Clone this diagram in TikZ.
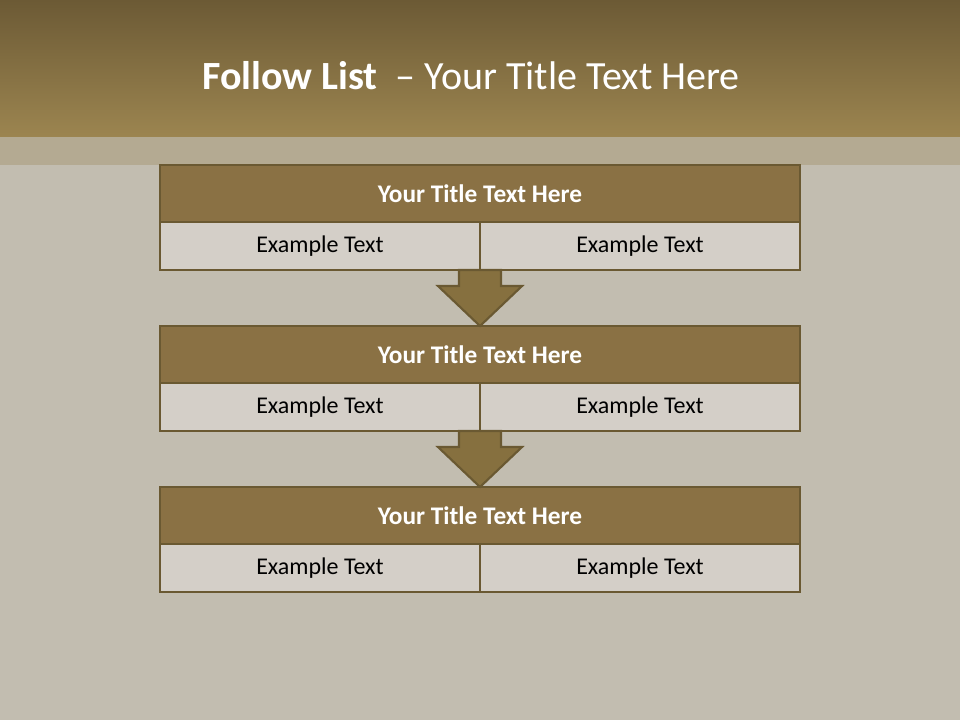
\documentclass[tikz,border=0pt]{standalone}
\usepackage{fontspec}
\setmainfont{Carlito}
\definecolor{headTop}{RGB}{108,90,53}
\definecolor{headBottom}{RGB}{156,133,80}
\definecolor{bandTan}{RGB}{180,170,146}
\definecolor{skinGrey}{RGB}{194,189,176}
\definecolor{titleOlive}{RGB}{138,113,68}
\definecolor{boxFrame}{RGB}{106,89,50}
\definecolor{cellStone}{RGB}{212,207,200}
\definecolor{arrowOlive}{RGB}{134,112,63}
\usetikzlibrary{positioning,calc}

\tikzset{
  titlebox/.style={draw=boxFrame, fill=titleOlive, line width=2.2pt,
    minimum width=480pt, minimum height=42.75pt, inner sep=0pt, outer sep=0pt,
    text=white, font=\fontsize{19}{23}\selectfont\bfseries},
  cellbox/.style={draw=boxFrame, fill=cellStone, line width=2.2pt,
    minimum width=240pt, minimum height=36pt, inner sep=0pt, outer sep=0pt,
    anchor=north west, text=black, font=\fontsize{18}{22}\selectfont},
  flowarrow/.style={draw=boxFrame, fill=arrowOlive, line width=1.6pt, line join=miter}
}

\begin{document}
\begin{tikzpicture}[x=0.75pt,y=-0.75pt]
  \useasboundingbox (0,0) rectangle (960,720);
  % background and header
  \fill[skinGrey] (0,0) rectangle (960,720);
  \shade[top color=headTop, bottom color=headBottom] (0,0) rectangle (960,137);
  \fill[bandTan] (0,137) rectangle (960,165);
  \node[text=white, font=\fontsize{30}{36}\selectfont] (heading) at (471,76)
    {\textbf{Follow List}\ \ – Your Title Text Here};

  % block 1
  \node[titlebox] (title1) at (480,193.5) {Your Title Text Here};
  \node[cellbox] (left1) at (title1.south west) {Example Text};
  \node[cellbox] (right1) at (left1.north east) {Example Text};

  % block 2
  \node[titlebox, below=42pt of left1.south east] (title2) {Your Title Text Here};
  \node[cellbox] (left2) at (title2.south west) {Example Text};
  \node[cellbox] (right2) at (left2.north east) {Example Text};

  % block 3
  \node[titlebox, below=42pt of left2.south east] (title3) {Your Title Text Here};
  \node[cellbox] (left3) at (title3.south west) {Example Text};
  \node[cellbox] (right3) at (left3.north east) {Example Text};

  % arrows
  \draw[flowarrow] (title2.north) -- ++(-42,-40) -- ++(21,0) -- ++(0,-16)
    -- ++(42,0) -- ++(0,16) -- ++(21,0) -- cycle;
  \draw[flowarrow] (title3.north) -- ++(-42,-40) -- ++(21,0) -- ++(0,-16)
    -- ++(42,0) -- ++(0,16) -- ++(21,0) -- cycle;
\end{tikzpicture}
\end{document}
